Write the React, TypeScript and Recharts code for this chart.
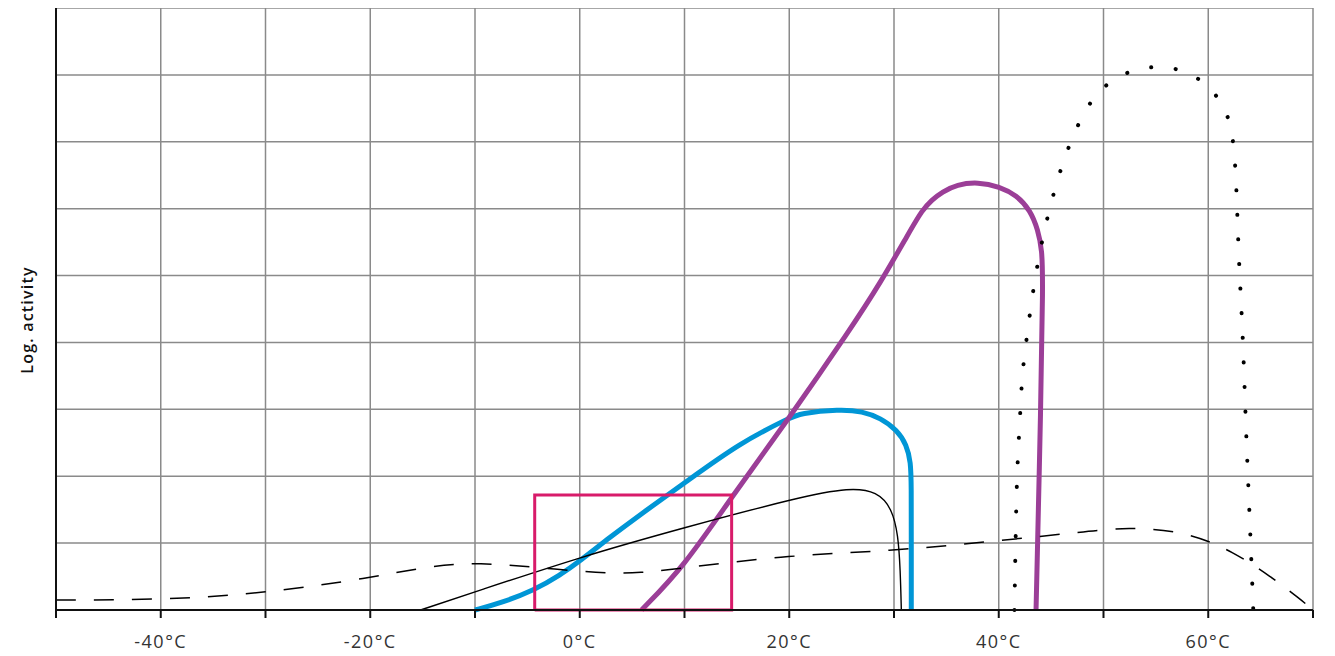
import { LineChart, Line, XAxis, YAxis, CartesianGrid } from "recharts";

// x = temperature (°C), y = log. activity (grid units)
const xTicks = [-50, -40, -30, -20, -10, 0, 10, 20, 30, 40, 50, 60, 70];
const yTicks = [0, 1, 2, 3, 4, 5, 6, 7, 8, 9];

const psychrophile = [
  { x: -50, y: 0.15 }, { x: -40, y: 0.15 }, { x: -30, y: 0.25 }, { x: -20, y: 0.48 },
  { x: -14.3, y: 0.66 }, { x: -9.5, y: 0.71 }, { x: -4.3, y: 0.64 }, { x: 1.9, y: 0.55 },
  { x: 5.8, y: 0.55 }, { x: 10, y: 0.63 }, { x: 20, y: 0.82 }, { x: 29.6, y: 0.88 },
  { x: 38.9, y: 1.02 }, { x: 46.5, y: 1.14 }, { x: 52.5, y: 1.25 }, { x: 58.2, y: 1.16 },
  { x: 62.4, y: 0.87 }, { x: 65.9, y: 0.51 }, { x: 68.8, y: 0.16 }, { x: 70, y: 0 },
];

const mesophile = [
  { x: -15.2, y: 0 }, { x: -10, y: 0.27 }, { x: 0, y: 0.79 }, { x: 9.9, y: 1.23 },
  { x: 21, y: 1.69 }, { x: 25.8, y: 1.83 }, { x: 28.4, y: 1.77 }, { x: 29.8, y: 1.52 },
  { x: 30.4, y: 1.12 }, { x: 30.6, y: 0.6 }, { x: 30.7, y: 0 },
];

const coldEnzyme = [
  { x: -10, y: 0 }, { x: -7.6, y: 0.1 }, { x: -4.3, y: 0.3 }, { x: -1.9, y: 0.52 },
  { x: 0, y: 0.73 }, { x: 2.9, y: 1.09 }, { x: 5.8, y: 1.43 }, { x: 10, y: 1.9 },
  { x: 15.3, y: 2.5 }, { x: 20, y: 2.87 }, { x: 21, y: 2.94 }, { x: 24.8, y: 3.0 },
  { x: 27, y: 2.97 }, { x: 28.7, y: 2.87 }, { x: 30.3, y: 2.69 }, { x: 31.2, y: 2.47 },
  { x: 31.6, y: 2.21 }, { x: 31.65, y: 1.87 }, { x: 31.65, y: 1 }, { x: 31.65, y: 0 },
];

const warmEnzyme = [
  { x: 5.9, y: 0 }, { x: 9.9, y: 0.64 }, { x: 14.5, y: 1.69 }, { x: 20, y: 2.87 },
  { x: 25.8, y: 4.19 }, { x: 28.7, y: 4.89 }, { x: 31.5, y: 5.66 }, { x: 32.7, y: 5.98 },
  { x: 33.6, y: 6.13 }, { x: 34.6, y: 6.25 }, { x: 36, y: 6.36 }, { x: 38, y: 6.4 },
  { x: 40.1, y: 6.33 }, { x: 41.7, y: 6.2 }, { x: 43, y: 5.98 }, { x: 43.75, y: 5.68 },
  { x: 44.13, y: 5.38 }, { x: 44.22, y: 4.93 }, { x: 44.03, y: 3.14 }, { x: 43.56, y: 0 },
];

const thermophile = [
  { x: 41.5, y: 0 }, { x: 41.7, y: 2.02 }, { x: 42, y: 2.75 }, { x: 42.2, y: 3.47 },
  { x: 42.5, y: 3.86 }, { x: 43.1, y: 4.6 }, { x: 43.9, y: 5.37 }, { x: 45, y: 6.11 },
  { x: 46.4, y: 6.85 }, { x: 48.4, y: 7.55 }, { x: 50.3, y: 7.88 }, { x: 52.7, y: 8.08 },
  { x: 55.4, y: 8.14 }, { x: 58, y: 8.06 }, { x: 60.2, y: 7.82 }, { x: 61.7, y: 7.49 },
  { x: 62.4, y: 7.09 }, { x: 62.7, y: 6.35 }, { x: 62.9, y: 5.25 }, { x: 63.3, y: 4.16 },
  { x: 63.6, y: 2.68 }, { x: 63.9, y: 1.6 }, { x: 64.3, y: 0 },
];

// highlighted window (corners, closed)
const highlightBox = [
  { x: -4.3, y: 0 }, { x: -4.3, y: 1.72 }, { x: 14.5, y: 1.72 }, { x: 14.5, y: 0 }, { x: -4.3, y: 0 },
];

const FONT = "'Open Sans', 'Noto Sans', sans-serif";

const tickLabel = (v: number) => (v % 20 === 0 ? `${v}°C` : "");

// y axis keeps its ticks (so the grid gets them) but draws no labels
const NoTick = () => <g />;

export default function App() {
  return (
    <LineChart width={1327} height={648} margin={{ top: 0, right: 22, bottom: 0, left: 0 }}>
      <CartesianGrid stroke="#8a8a8a" strokeWidth={1.5} />
      <XAxis
        type="number"
        dataKey="x"
        domain={[-50, 70]}
        ticks={xTicks}
        interval={0}
        height={46}
        tickFormatter={tickLabel}
        tickSize={8}
        tickMargin={17}
        axisLine={{ stroke: "#111", strokeWidth: 2 }}
        tickLine={{ stroke: "#111", strokeWidth: 2 }}
        tick={{ fontFamily: FONT, fontSize: 18, fill: "#333", letterSpacing: 1.5 }}
        allowDuplicatedCategory={false}
      />
      <YAxis
        type="number"
        domain={[0, 9]}
        ticks={yTicks}
        interval={0}
        width={48}
        tick={NoTick}
        tickLine={false}
        axisLine={{ stroke: "#111", strokeWidth: 2 }}
        label={{
          content: () => (
            <text
              x={19}
              y={312}
              transform="rotate(-90 19 312)"
              textAnchor="middle"
              dominantBaseline="central"
              fontFamily={FONT}
              fontWeight={600}
              fontSize={16}
              letterSpacing={1.2}
              fill="#111"
            >
              Log. activity
            </text>
          ),
        }}
      />
      <Line data={coldEnzyme} dataKey="y" type="basis" stroke="#0096d6" strokeWidth={5} dot={false} activeDot={false} isAnimationActive={false} />
      <Line data={warmEnzyme} dataKey="y" type="basis" stroke="#9b3e97" strokeWidth={5} dot={false} activeDot={false} isAnimationActive={false} />
      <Line data={mesophile} dataKey="y" type="basis" stroke="#000" strokeWidth={1.4} dot={false} activeDot={false} isAnimationActive={false} />
      <Line data={psychrophile} dataKey="y" type="basis" stroke="#000" strokeWidth={1.5} strokeDasharray="20 18" dot={false} activeDot={false} isAnimationActive={false} />
      <Line data={thermophile} dataKey="y" type="basis" stroke="#000" strokeWidth={4} strokeDasharray="0.1 24.5" strokeLinecap="round" dot={false} activeDot={false} isAnimationActive={false} />
      <Line data={highlightBox} dataKey="y" type="linear" stroke="#d81b6a" strokeWidth={3} dot={false} activeDot={false} isAnimationActive={false} />
    </LineChart>
  );
}
